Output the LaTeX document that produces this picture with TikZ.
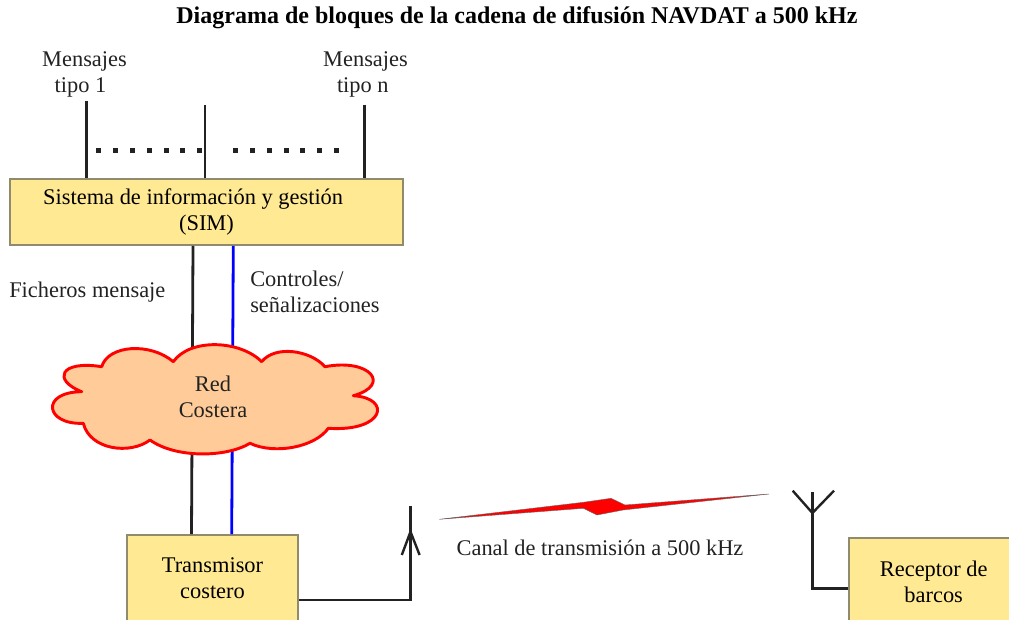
\documentclass[tikz,border=0pt]{standalone}
\usepackage{fontspec}
\setmainfont{Liberation Serif}
\definecolor{boxfill}{HTML}{FFE993}
\definecolor{boxedge}{HTML}{8F8B6C}
\definecolor{cloudfill}{HTML}{FFCC99}
\definecolor{inkline}{HTML}{222222}
\tikzset{
  blockbox/.style={draw=boxedge,fill=boxfill,line width=1.4pt,align=center,inner sep=0pt},
  wire/.style={draw=inkline,line width=2.1pt},
  signalwire/.style={draw=blue,line width=2.1pt},
  thinwire/.style={draw=inkline,line width=1.8pt},
  tag/.style={align=center,inner sep=0pt,text=inkline},
  every node/.style={font=\fontsize{16.8}{19.5}\selectfont},
}
\begin{document}
\begin{tikzpicture}[y=0.75pt, x=0.75pt,yscale=-1]
  \useasboundingbox (0,0) rectangle (1009,620);

  % title and top labels
  \node[tag,text=black,font=\fontsize{18}{19.5}\selectfont\bfseries] (titulo) at (517,18) {Diagrama de bloques de la cadena de difusión NAVDAT a 500 kHz};
  \node[tag] (tipouno) at (84.5,74) {Mensajes\\tipo 1\hspace*{6pt}};
  \node[tag] (tipon) at (365.5,74) {Mensajes\\tipo n\hspace*{4pt}};

  % blocks
  \node[blockbox,minimum width=295pt,minimum height=49.5pt] (SIM) at (206.5,212) {Sistema de información y gestión\hspace*{20pt}\\(SIM)};
  \node[blockbox,minimum width=128pt,minimum height=65pt] (Trans) at (212.5,578.5) {Transmisor\\costero};
  \node[blockbox,minimum width=124pt,minimum height=65pt] (Rec) at (931.7,581.5) {\hspace*{3pt}Receptor de\\\hspace*{3pt}barcos};

  % inputs of the SIM
  \coordinate (ma) at (86.3,101);
  \coordinate (mb) at (205,105);
  \coordinate (mc) at (364.7,105);
  \draw[wire] (ma) -- (SIM.north -| ma);
  \draw[wire] (mb) -- (SIM.north -| mb);
  \draw[wire] (mc) -- (SIM.north -| mc);
  \foreach \x in {98,115,132,149,166,182,199,235,252,269,286,302,319,336}
    \fill[inkline] (\x-2.5,148) rectangle (\x+2.5,153);

  % SIM to transmitter, behind the cloud
  \draw[wire] (SIM.south -| 193,0) -- (Trans.north -| 191.5,0);
  \draw[signalwire] (SIM.south -| 233.3,0) -- (Trans.north -| 231.7,0);
  \node[tag,anchor=west] (fich) at (9,292) {Ficheros mensaje};
  \node[tag,anchor=west,align=left] (ctrl) at (250,292) {Controles/\\señalizaciones};

  % cloud
  \path[draw=red,fill=cloudfill,line width=2.2pt,line join=round] (81.7,391.7)
    .. controls (52,380) and (60,360) .. (101.7,366.7)
    .. controls (108,345) and (150,342) .. (173.3,361.7)
    .. controls (190,338) and (240,340) .. (261.7,361.7)
    .. controls (275,345) and (310,350) .. (325,366.7)
    .. controls (370,358) and (392,385) .. (353.3,395.7)
    .. controls (392,398) and (385,432) .. (328.3,428.3)
    .. controls (315,447) and (275,455) .. (250,443.3)
    .. controls (225,458) and (175,458) .. (150,440)
    .. controls (130,455) and (90,450) .. (83.3,423.3)
    .. controls (45,425) and (40,392) .. (81.7,391.7) -- cycle;
  \node[tag] (costa) at (213,397) {Red\\Costera};

  % transmit antenna
  \coordinate (txtop) at (410.5,506);
  \coordinate (txtip) at (410.5,531.7);
  \draw[thinwire] (Trans.east |- 0,600) -| (txtop);
  \draw[thinwire] (401.8,555) -- (txtip) -- (419.6,555);

  % radio link
  \fill[red,draw=inkline!70,line width=0.3pt] (439.3,519.3) -- (583.4,502.3) -- (611,498.3) -- (625,505) -- (769,494)
    -- (623,510) -- (597,515) -- (583.4,508.3) -- cycle;
  \node[tag] (canal) at (600,548) {Canal de transmisión a 500 kHz};

  % receive antenna
  \coordinate (rxtop) at (812.4,491.7);
  \coordinate (rxtip) at (812.4,513);
  \draw[thinwire] (Rec.west |- 0,588.3) -| (rxtop);
  \draw[thinwire] (792.7,490.7) -- (rxtip) -- (834,490.7);
\end{tikzpicture}
\end{document}
